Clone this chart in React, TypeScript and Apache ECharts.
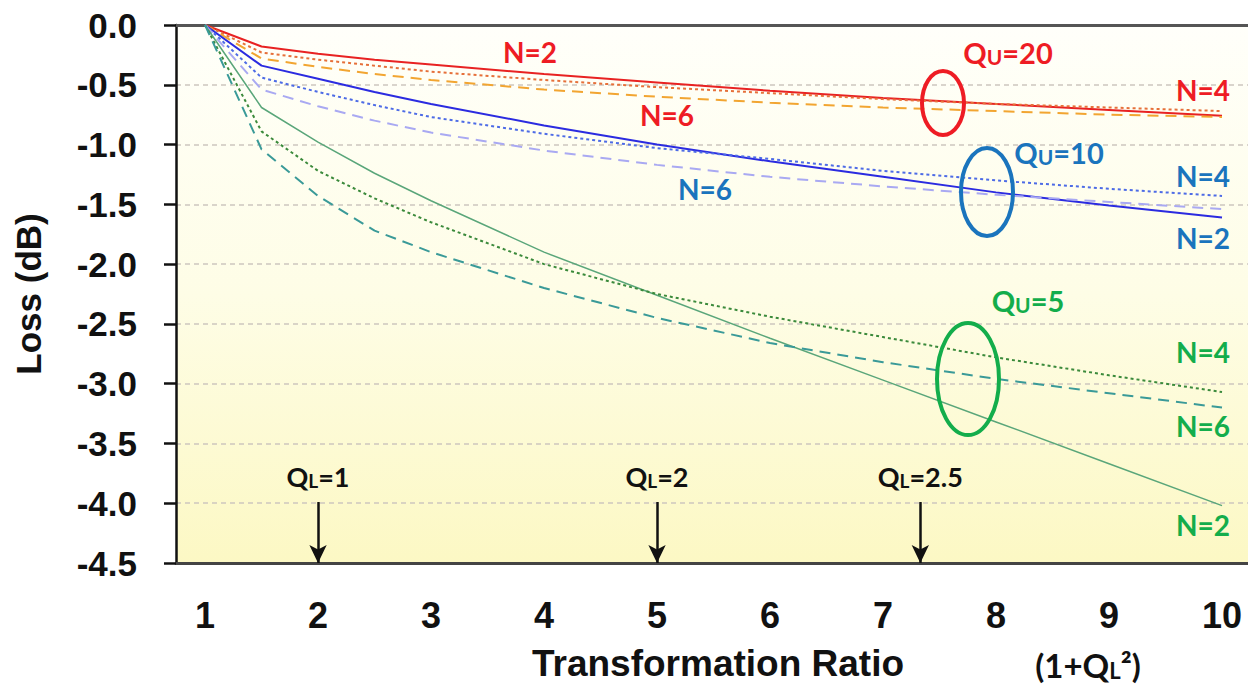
import React, { useEffect, useRef } from "react";
import * as echarts from "echarts";

const xs = [1, 1.5, 2, 2.5, 3, 4, 5, 6, 7, 8, 9, 10];
const q20n2 = [0, -0.18, -0.24, -0.29, -0.33, -0.41, -0.48, -0.55, -0.61, -0.66, -0.71, -0.76];
const q20n4 = [0, -0.23, -0.29, -0.34, -0.39, -0.46, -0.52, -0.57, -0.62, -0.66, -0.69, -0.72];
const q20n6 = [0, -0.28, -0.35, -0.41, -0.46, -0.54, -0.6, -0.65, -0.69, -0.72, -0.75, -0.77];
const q10n2 = [0, -0.34, -0.45, -0.56, -0.66, -0.84, -1.0, -1.14, -1.27, -1.4, -1.51, -1.61];
const q10n4 = [0, -0.44, -0.56, -0.67, -0.77, -0.91, -1.03, -1.12, -1.22, -1.3, -1.37, -1.43];
const q10n6 = [0, -0.54, -0.68, -0.8, -0.9, -1.05, -1.17, -1.27, -1.35, -1.42, -1.48, -1.54];
const q5n2 = [0, -0.69, -0.98, -1.24, -1.47, -1.9, -2.26, -2.62, -2.97, -3.32, -3.67, -4.02];
const q5n4 = [0, -0.89, -1.22, -1.45, -1.65, -2.0, -2.25, -2.44, -2.61, -2.78, -2.93, -3.07];
const q5n6 = [0, -1.04, -1.43, -1.72, -1.9, -2.2, -2.45, -2.66, -2.82, -2.96, -3.08, -3.2];

const xTicks = [1, 2, 3, 4, 5, 6, 7, 8, 9, 10];
const arrowX = [2, 5, 7.33];
const arrowQL = ["1", "2", "2.5"];

const RED = "#ee1c24";
const BLUE = "#1a74bd";
const GREEN = "#13ad4b";

export default function App() {
  const ref = useRef<HTMLDivElement>(null);
  useEffect(() => {
    document.body.style.margin = "0";
    const chart = echarts.init(ref.current!, undefined, { renderer: "svg" });
    const mk = (name: string, ys: number[], color: string, type: any, width: number) => ({
      name,
      type: "line",
      data: xs.map((x, i) => [x, ys[i]]),
      symbol: "none",
      lineStyle: { color, type, width },
      z: 3,
    });
    const annFont = "Lato";
    const txt = (text: string, x: number, y: number, color: string, size = 28) => ({
      type: "text",
      x,
      y,
      style: {
        text,
        fill: color,
        font: `bold ${size}px ${annFont}`,
        align: "center",
        verticalAlign: "middle",
      },
      z: 10,
    });
    const quTxt = (num: string, x: number, y: number, color: string) => ({
      type: "text",
      x,
      y,
      style: {
        text: `{q|Q}{u|U}{n|=${num}}`,
        align: "center",
        verticalAlign: "middle",
        rich: {
          q: { fill: color, font: `bold 29px ${annFont}`, verticalAlign: "bottom", lineHeight: 30 },
          u: { fill: color, font: `bold 21px ${annFont}`, verticalAlign: "bottom", lineHeight: 24 },
          n: { fill: color, font: `bold 29px ${annFont}`, verticalAlign: "bottom", lineHeight: 30 },
        },
      },
      z: 10,
    });
    const ell = (cx: number, cy: number, rx: number, ry: number, color: string) => ({
      type: "ellipse",
      shape: { cx, cy, rx, ry },
      style: { fill: "none", stroke: color, lineWidth: 4 },
      z: 10,
    });
    const option: any = {
      animation: false,
      grid: {
        left: 176,
        right: 0,
        top: 25,
        bottom: 121,
        show: true,
        borderWidth: 0,
        backgroundColor: new echarts.graphic.LinearGradient(0, 0, 0, 1, [
          { offset: 0, color: "#fffffa" },
          { offset: 0.5, color: "#fefde6" },
          { offset: 1, color: "#fcf8c4" },
        ]),
      },
      xAxis: [
        {
          type: "value",
          min: 0.743,
          max: 10.23,
          position: "bottom",
          axisLine: { show: true, onZero: false, lineStyle: { color: "#444", width: 3 } },
          axisTick: { show: false },
          splitLine: { show: false },
          axisLabel: {
            customValues: xTicks,
            color: "#111",
            fontFamily: "Liberation Sans",
            fontWeight: "bold",
            fontSize: 36,
            margin: 34,
          },
          name: "Transformation Ratio",
          nameLocation: "middle",
          nameGap: 82,
          nameTextStyle: {
            color: "#111",
            fontFamily: "Liberation Sans",
            fontWeight: "bold",
            fontSize: 37,
            padding: [0, 0, 0, 12],
          },
        },
        {
          type: "value",
          min: 0.743,
          max: 10.23,
          position: "top",
          axisLine: { show: true, lineStyle: { color: "#555", width: 3 } },
          axisTick: { show: false },
          axisLabel: { show: false },
          splitLine: { show: false },
        },
      ],
      yAxis: {
        type: "value",
        min: -4.5,
        max: 0,
        interval: 0.5,
        axisLine: { show: true, lineStyle: { color: "#111", width: 2.5 } },
        axisTick: { show: true, length: 12, lineStyle: { color: "#111", width: 2.5 } },
        splitLine: { show: true, lineStyle: { color: "#cdc6bf", type: [5, 4], width: 1.5 } },
        axisLabel: {
          formatter: (v: number) => v.toFixed(1),
          color: "#111",
          fontFamily: "Liberation Sans",
          fontWeight: "bold",
          fontSize: 35,
          margin: 39,
        },
        name: "Loss (dB)",
        nameLocation: "middle",
        nameGap: 130,
        nameTextStyle: {
          color: "#111",
          fontFamily: "Liberation Sans",
          fontWeight: "bold",
          fontSize: 35,
        },
      },
      series: [
        mk("q20n2", q20n2, "#e82222", "solid", 2),
        mk("q20n4", q20n4, "#e6703a", [3, 3], 2),
        mk("q20n6", q20n6, "#f2a531", [11, 7], 2),
        mk("q10n2", q10n2, "#2b2be0", "solid", 2),
        mk("q10n4", q10n4, "#4d6be6", [3, 3], 2),
        mk("q10n6", q10n6, "#a9a9f2", [11, 7], 2),
        mk("q5n2", q5n2, "#5aa67a", "solid", 1.5),
        mk("q5n4", q5n4, "#3b8a3b", [3, 3], 2),
        mk("q5n6", q5n6, "#3a9a98", [11, 7], 2),
        {
          name: "arrows",
          type: "line",
          data: [],
          markLine: {
            silent: true,
            symbol: ["none", "arrow"],
            symbolSize: [13, 18],
            lineStyle: { color: "#111", width: 2.5, type: "solid" },
            label: {
              show: true,
              position: "start",
              distance: 12,
              formatter: (p: any) => `{q|Q}{l|L}{n|=${arrowQL[p.dataIndex]}}`,
              rich: {
                q: { color: "#111", fontFamily: annFont, fontWeight: "bold", fontSize: 27, verticalAlign: "bottom", lineHeight: 28 },
                l: { color: "#111", fontFamily: annFont, fontWeight: "bold", fontSize: 19, verticalAlign: "bottom", lineHeight: 22 },
                n: { color: "#111", fontFamily: annFont, fontWeight: "bold", fontSize: 27, verticalAlign: "bottom", lineHeight: 28 },
              },
            },
            data: arrowX.map((x) => [{ coord: [x, -3.99] }, { coord: [x, -4.5] }]),
          },
        },
      ],
      graphic: [
        txt("N=2", 530, 52, RED),
        txt("N=6", 667, 115, RED),
        quTxt("20", 1008, 52, RED),
        txt("N=4", 1203, 90, RED),
        ell(943, 103, 21, 32, RED),
        quTxt("10", 1059, 152, BLUE),
        txt("N=6", 705, 189, BLUE),
        txt("N=4", 1203, 176, BLUE),
        txt("N=2", 1203, 238, BLUE),
        ell(987, 192, 26, 44, BLUE),
        quTxt("5", 1028, 300, GREEN),
        txt("N=4", 1203, 352, GREEN),
        txt("N=6", 1203, 426, GREEN),
        txt("N=2", 1203, 525, GREEN),
        ell(968, 379, 31, 56, GREEN),
        {
          type: "text",
          x: 1088,
          y: 664,
          style: {
            text: "{a|(1+Q}{l|L}{a|²)}",
            align: "center",
            verticalAlign: "middle",
            rich: {
              a: { fill: "#111", font: `bold 33px ${annFont}`, verticalAlign: "bottom", lineHeight: 34 },
              l: { fill: "#111", font: `bold 22px ${annFont}`, verticalAlign: "bottom", lineHeight: 27 },
            },
          },
        },
      ],
    };
    chart.setOption(option);
    return () => chart.dispose();
  }, []);
  return <div ref={ref} style={{ width: 1248, height: 687 }} />;
}
